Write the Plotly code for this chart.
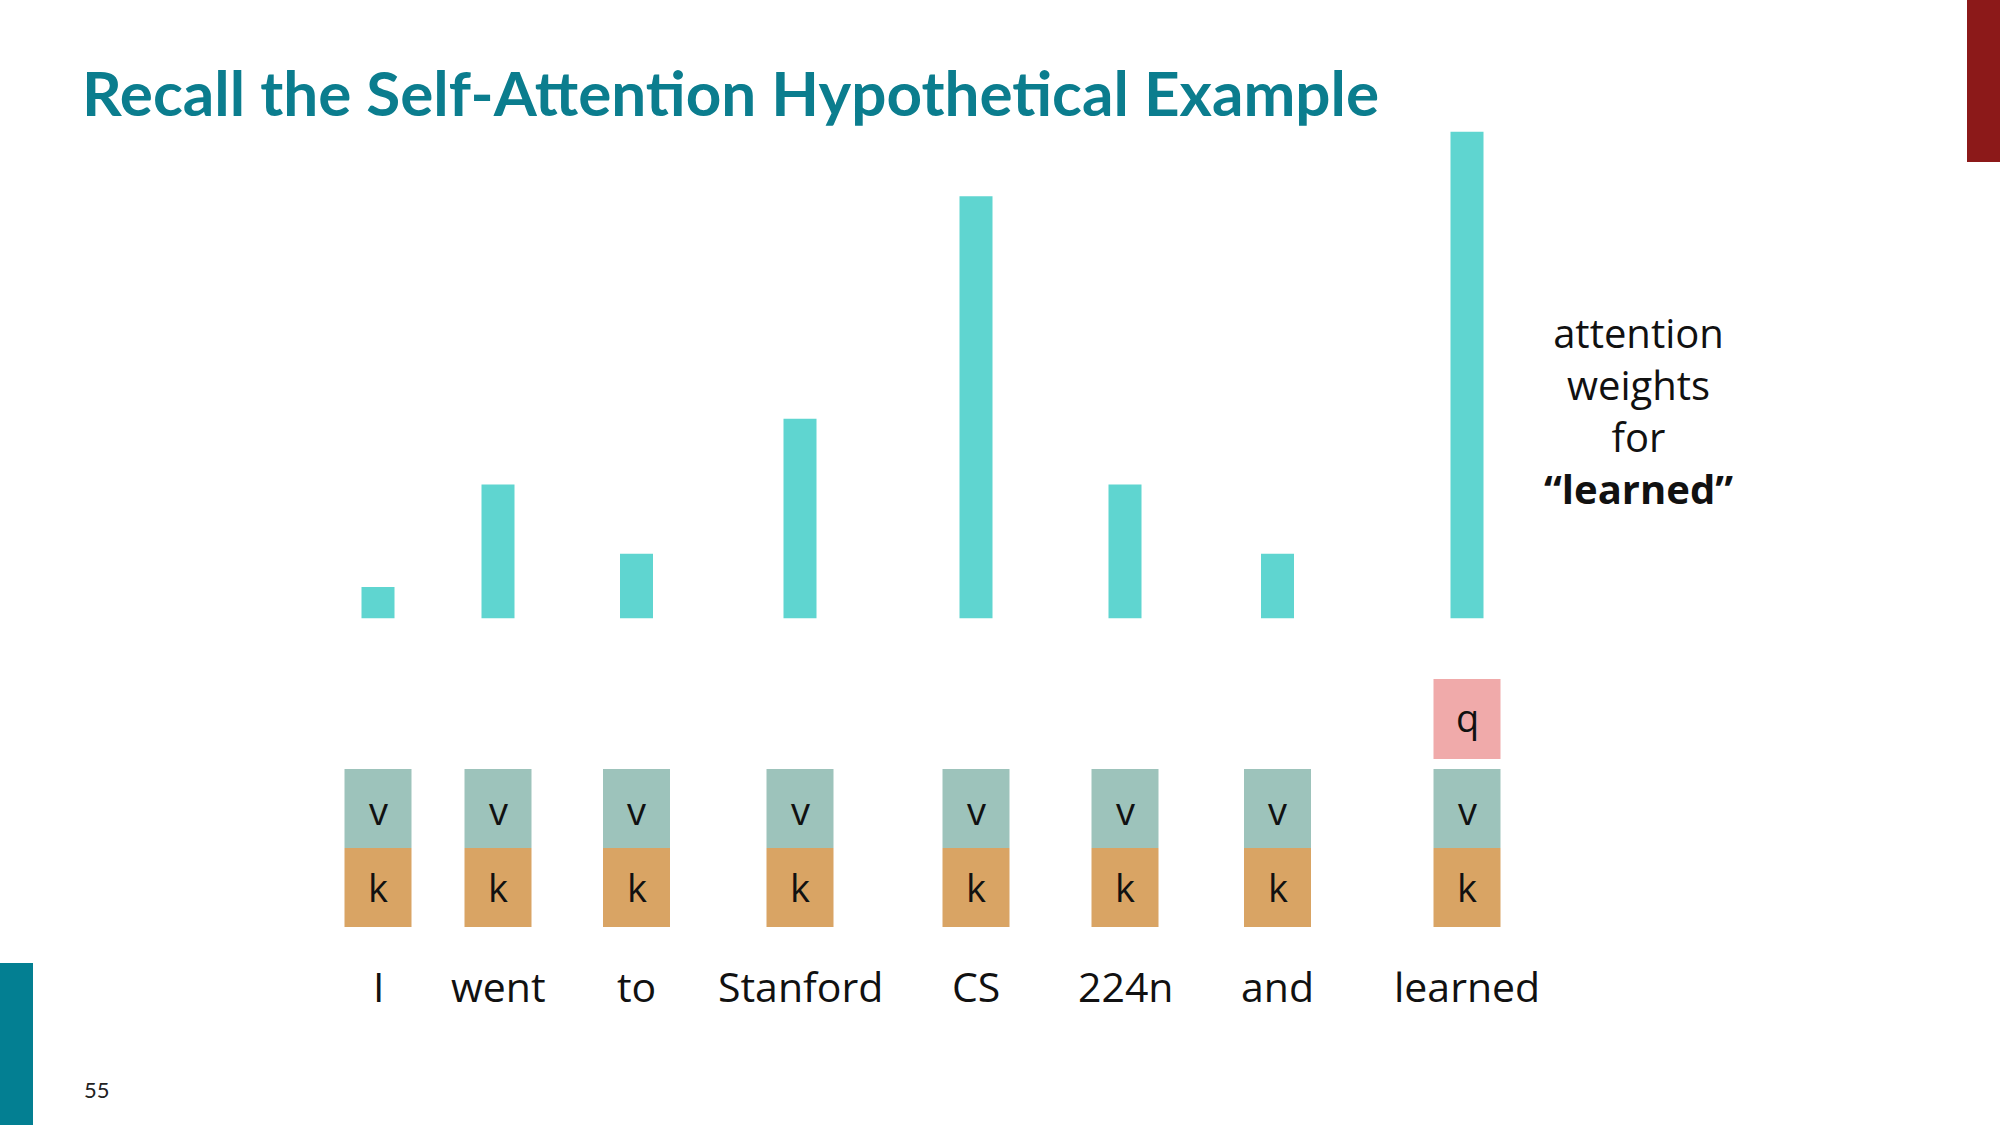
import plotly.graph_objects as go

# ---- data ----
words = ["I", "went", "to", "Stanford", "CS", "224n", "and", "learned"]
attention = [0.065, 0.275, 0.133, 0.41, 0.867, 0.275, 0.133, 1.00]
query_word = "learned"
title_text = "Recall the Self-Attention Hypothetical Example"
side_lines = ["attention", "weights", "for", "<b>“learned”</b>"]
page_number = "55"

# ---- layout constants (pixel space of a 2000x1125 slide) ----
W, H = 2000, 1125
slot_x = [378, 498, 636.5, 800, 976, 1125, 1277.5, 1467]
bar_w = 33
box_w = 67
v_top, v_bot = 769, 848
k_top, k_bot = 848, 927
q_top, q_bot = 679, 759
bar_base_px, bar_top_px = 618.6, 131.4

BAR_C = "#5fd5d0"
V_C = "#9dc3bb"
K_C = "#d9a464"
Q_C = "#f0aaaa"
TEAL = "#0b7d8e"
BODY_FONT = "Open Sans"

fig = go.Figure()
fig.add_trace(go.Bar(
    x=slot_x, y=attention, width=bar_w, marker_color=BAR_C,
    marker_line_width=0, xaxis="x", yaxis="y2", hoverinfo="skip",
))

shapes = []
annotations = []
for xc, w in zip(slot_x, words):
    shapes.append(dict(type="rect", xref="x", yref="y", x0=xc - box_w / 2, x1=xc + box_w / 2,
                       y0=v_top, y1=v_bot, fillcolor=V_C, line_width=0, layer="below"))
    shapes.append(dict(type="rect", xref="x", yref="y", x0=xc - box_w / 2, x1=xc + box_w / 2,
                       y0=k_top, y1=k_bot, fillcolor=K_C, line_width=0, layer="below"))
    annotations.append(dict(x=xc, y=(v_top + v_bot) / 2 + 1, text="v", showarrow=False,
                            xref="x", yref="y", font=dict(family=BODY_FONT, size=38, color="#111")))
    annotations.append(dict(x=xc, y=(k_top + k_bot) / 2 - 1, text="k", showarrow=False,
                            xref="x", yref="y", font=dict(family=BODY_FONT, size=38, color="#111")))
    annotations.append(dict(x=xc, y=986, text=w, showarrow=False, xref="x", yref="y",
                            font=dict(family=BODY_FONT, size=41, color="#111")))
    if w == query_word:
        shapes.append(dict(type="rect", xref="x", yref="y", x0=xc - box_w / 2, x1=xc + box_w / 2,
                           y0=q_top, y1=q_bot, fillcolor=Q_C, line_width=0, layer="below"))
        annotations.append(dict(x=xc, y=(q_top + q_bot) / 2 - 2, text="q", showarrow=False,
                                xref="x", yref="y", font=dict(family=BODY_FONT, size=38, color="#111")))

# side text (one multi-line block)
annotations.append(dict(x=1638, y=410, text="<br>".join(side_lines), showarrow=False,
                        xref="x", yref="y", align="center",
                        font=dict(family=BODY_FONT, size=40, color="#111")))

# title
annotations.append(dict(x=80, y=92, text="<b>" + title_text + "</b>", showarrow=False,
                        xref="x", yref="y", xanchor="left",
                        font=dict(family="Lato", size=62, color=TEAL)))
# page number
annotations.append(dict(x=82, y=1089, text=page_number, showarrow=False, xref="x", yref="y",
                        xanchor="left", font=dict(family="Lato", size=22, color="#222")))

# decorative bars
shapes.append(dict(type="rect", xref="x", yref="y", x0=1967, x1=2000, y0=0, y1=162,
                   fillcolor="#8c1919", line_width=0))
shapes.append(dict(type="rect", xref="x", yref="y", x0=0, x1=33, y0=963, y1=1125,
                   fillcolor="#037f92", line_width=0))

fig.update_layout(
    width=W, height=H, margin=dict(l=0, r=0, t=0, b=0),
    paper_bgcolor="white", plot_bgcolor="white", showlegend=False,
    xaxis=dict(range=[0, W], domain=[0, 1], visible=False, fixedrange=True),
    yaxis=dict(range=[H, 0], domain=[0, 1], visible=False, fixedrange=True),
    yaxis2=dict(range=[0, 1], domain=[1 - bar_base_px / H, 1 - bar_top_px / H],
                anchor="x", visible=False, fixedrange=True),
    shapes=shapes, annotations=annotations,
)

fig.write_html("out.html", post_script="document.body.style.margin='0';",
               config={"displayModeBar": False})
